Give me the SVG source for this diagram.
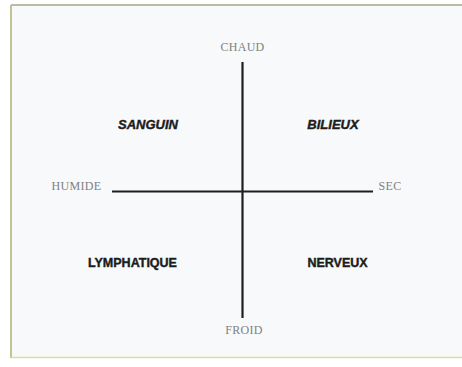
<svg xmlns="http://www.w3.org/2000/svg" width="462" height="367" viewBox="0 0 462 367">
  <style>
    .axis { font-family: "Liberation Serif", "Times New Roman", serif; font-size: 12px; fill: #808080; text-anchor: middle; letter-spacing: 0.3px; }
    .temp { font-family: "Liberation Sans", Arial, sans-serif; font-size: 12.5px; font-weight: bold; fill: #1c1c1c; stroke: #1c1c1c; stroke-width: 0.4px; text-anchor: middle; }
    .it { font-style: italic; font-size: 13px; }
    .line { stroke: #1e1e1e; stroke-width: 2.2; fill: none; }
  </style>
  <rect x="0" y="0" width="462" height="367" fill="#ffffff"/>
  <rect x="11" y="5" width="451" height="353" fill="#f8f9fb"/>
  <g id="frame">
    <line x1="11" y1="5" x2="462" y2="5" stroke="#a3a68a" stroke-width="1.5"/>
    <line x1="11" y1="5" x2="11" y2="358" stroke="#b4b070" stroke-width="1.5"/>
    <line x1="11" y1="357.5" x2="462" y2="357.5" stroke="#d9dba8" stroke-width="1.5"/>
  </g>
  <g id="connectors">
    <line class="line" x1="242.5" y1="62" x2="242.5" y2="318"/>
    <line class="line" x1="112" y1="191.5" x2="373" y2="191.5"/>
  </g>
  <g id="chaud"><text class="axis" x="242.5" y="51">CHAUD</text></g>
  <g id="froid"><text class="axis" x="244" y="334">FROID</text></g>
  <g id="humide"><text class="axis" x="76.5" y="190">HUMIDE</text></g>
  <g id="sec"><text class="axis" x="390" y="190">SEC</text></g>
  <g id="sanguin"><text class="temp it" x="148" y="129">SANGUIN</text></g>
  <g id="bilieux"><text class="temp it" x="333" y="129">BILIEUX</text></g>
  <g id="lymphatique"><text class="temp" x="132.5" y="267">LYMPHATIQUE</text></g>
  <g id="nerveux"><text class="temp" x="337.5" y="267">NERVEUX</text></g>
</svg>
